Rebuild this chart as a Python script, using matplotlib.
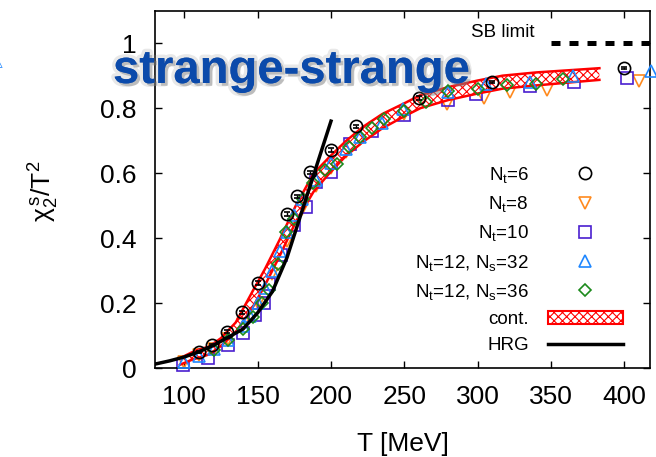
import matplotlib
matplotlib.use("Agg")
import matplotlib.pyplot as plt
import matplotlib.patheffects as pe
from matplotlib.patches import Patch
from matplotlib.lines import Line2D

plt.rcParams['font.family'] = ['Liberation Sans', 'DejaVu Sans']
plt.rcParams['mathtext.fontset'] = 'custom'
plt.rcParams['mathtext.rm'] = 'Liberation Sans'
plt.rcParams['mathtext.it'] = 'Liberation Sans'
plt.rcParams['mathtext.sf'] = 'Liberation Sans'
plt.rcParams['hatch.linewidth'] = 0.8

# ---------------- data ----------------
T6 = [110, 119, 129, 139, 150, 170, 177, 186, 200, 217, 260, 310, 400]
y6 = [0.050, 0.072, 0.112, 0.171, 0.262, 0.474, 0.528, 0.602, 0.672, 0.744, 0.831, 0.880, 0.923]
e6 = [0.003, 0.003, 0.004, 0.004, 0.005, 0.006, 0.006, 0.006, 0.006, 0.005, 0.005, 0.004, 0.004]

T8 = [100, 110, 120, 130, 140, 150, 160, 170, 180, 190, 200, 210, 220, 230, 250, 279, 304, 322, 347, 410]
y8 = [0.018, 0.040, 0.060, 0.090, 0.135, 0.200, 0.290, 0.390, 0.490, 0.560, 0.615, 0.665, 0.705, 0.740,
      0.783, 0.813, 0.831, 0.849, 0.857, 0.885]

T10 = [99, 116, 130, 140, 148, 154, 158, 166, 175, 183, 190, 200, 213, 228, 250, 280, 299, 336, 366, 402]
y10 = [0.008, 0.030, 0.070, 0.107, 0.162, 0.200, 0.260, 0.347, 0.439, 0.495, 0.572, 0.603, 0.690, 0.729,
       0.778, 0.826, 0.844, 0.867, 0.880, 0.893]

T32 = [100, 110, 120, 130, 140, 145, 150, 155, 160, 165, 170, 175, 180, 190, 200, 210, 220, 235, 249,
       280, 306, 336, 365, 418]
y32 = [0.018, 0.038, 0.058, 0.085, 0.130, 0.160, 0.200, 0.245, 0.300, 0.360, 0.420, 0.470, 0.520, 0.580,
       0.630, 0.675, 0.710, 0.755, 0.796, 0.850, 0.875, 0.880, 0.900, 0.914]

T36 = [120, 130, 140, 147, 153, 158, 164, 169, 175, 181, 188, 196, 204, 212, 220, 228, 236, 250, 265,
       280, 300, 320, 340, 358]
y36 = [0.055, 0.085, 0.120, 0.157, 0.200, 0.240, 0.320, 0.418, 0.460, 0.520, 0.570, 0.610, 0.629, 0.680,
       0.710, 0.740, 0.767, 0.790, 0.820, 0.854, 0.860, 0.870, 0.875, 0.890]

Tc = [97, 105, 110, 117, 125, 135, 147, 155, 165, 176, 188, 199, 210, 222, 235, 250, 261, 280, 300,
      317, 340, 360, 383]
cont_lo = [0.010, 0.025, 0.032, 0.042, 0.068, 0.110, 0.190, 0.255, 0.345, 0.450, 0.542, 0.600, 0.652,
           0.697, 0.738, 0.775, 0.800, 0.825, 0.845, 0.860, 0.870, 0.878, 0.887]
cont_hi = [0.030, 0.048, 0.057, 0.066, 0.092, 0.140, 0.240, 0.305, 0.395, 0.500, 0.598, 0.650, 0.698,
           0.743, 0.782, 0.815, 0.840, 0.865, 0.885, 0.900, 0.910, 0.916, 0.923]

T_hrg = [80, 90, 100, 110, 120, 130, 140, 150, 160, 170, 180, 190, 200]
y_hrg = [0.012, 0.022, 0.034, 0.050, 0.070, 0.095, 0.120, 0.170, 0.235, 0.340, 0.480, 0.620, 0.760]

T_sb = [350, 420]
y_sb = [1.0, 1.0]

xticks = [100, 150, 200, 250, 300, 350, 400]
yticks = [0, 0.2, 0.4, 0.6, 0.8, 1.0]
ytick_labels = ['0', '0.2', '0.4', '0.6', '0.8', '1']

labels = [r'N$_\mathregular{t}$=6', r'N$_\mathregular{t}$=8', r'N$_\mathregular{t}$=10',
          r'N$_\mathregular{t}$=12, N$_\mathregular{s}$=32', r'N$_\mathregular{t}$=12, N$_\mathregular{s}$=36',
          'cont.', 'HRG']

c_orange = '#ff8a1e'
c_purple = '#4a1fcf'
c_blue = '#1f87ff'
c_green = '#1c8a1c'

# ---------------- figure ----------------
fig = plt.figure(figsize=(6.56, 4.57), dpi=100)
ax = fig.add_axes([155/656, 1-368/457, 495/656, 357.3/457])

ax.fill_between(Tc, cont_lo, cont_hi, facecolor='white', edgecolor='red', hatch='xxxx', linewidth=0, zorder=3)
ax.plot(Tc, cont_lo, color='red', lw=1.8, zorder=3.1)
ax.plot(Tc, cont_hi, color='red', lw=1.8, zorder=3.1)

ms = 8.8
mew = 1.2
ax.plot(T8, y8, 'v', ms=ms, mfc='none', mec=c_orange, mew=mew, clip_on=False, zorder=2)
ax.plot(T10, y10, 's', ms=ms+0.5, mfc='none', mec=c_purple, mew=mew, clip_on=False, zorder=2)
ax.plot(T32, y32, '^', ms=ms, mfc='none', mec=c_blue, mew=mew, clip_on=False, zorder=4)
ax.plot(T36, y36, 'D', ms=ms-2.5, mfc='none', mec=c_green, mew=mew, clip_on=False, zorder=4)
ax.errorbar(T6, y6, yerr=e6, fmt='o', ms=ms, mfc='none', mec='black', mew=mew, ecolor='black',
            elinewidth=1, capsize=2, clip_on=False, zorder=5)

ax.plot(T_hrg, y_hrg, color='black', lw=2.5, zorder=6)
ax.plot(T_sb, y_sb, color='black', lw=3.6, linestyle=(0, (1.8, 1.8)), dash_capstyle='butt', zorder=6)
ax.text(0.766, 0.94, 'SB limit', transform=ax.transAxes, ha='right', va='center', fontsize=13.5)

ax.set_xlim(80, 417.5)
ax.set_ylim(0, 1.1)
ax.set_xticks(xticks)
ax.set_yticks(yticks)
ax.set_yticklabels(ytick_labels)
ax.tick_params(direction='in', length=5, width=1, top=True, right=True, labelsize=19)
ax.tick_params(axis='x', pad=12)
ax.tick_params(axis='y', pad=13)
for s in ax.spines.values():
    s.set_linewidth(1.2)

ax.set_xlabel('T [MeV]', fontsize=19, labelpad=17)
ax.set_ylabel(r'$\mathregular{\chi_2^{\,s}/T^2}$', fontsize=19)
ax.yaxis.set_label_coords(-0.19, 0.495)

handles = [
    Line2D([], [], ls='none', marker='o', ms=ms, mfc='none', mec='black', mew=mew),
    Line2D([], [], ls='none', marker='v', ms=ms, mfc='none', mec=c_orange, mew=mew),
    Line2D([], [], ls='none', marker='s', ms=ms, mfc='none', mec=c_purple, mew=mew),
    Line2D([], [], ls='none', marker='^', ms=ms, mfc='none', mec=c_blue, mew=mew),
    Line2D([], [], ls='none', marker='D', ms=ms-2.5, mfc='none', mec=c_green, mew=mew),
    Patch(facecolor='white', edgecolor='red', hatch='xxxx', lw=1.5),
    Line2D([], [], color='black', lw=2.5),
]
leg = ax.legend(handles, labels, loc='upper right', bbox_to_anchor=(0.945, 0.568), frameon=False,
                markerfirst=False, fontsize=13.5, handlelength=4.0, handletextpad=1.0,
                labelspacing=0.49, borderpad=0, borderaxespad=0)
for t in leg.get_texts():
    t.set_ha('right')

# title
fig.text(113/656, 1-83/457, 'strange-strange', fontsize=34, fontweight='bold', color='#0b4aab',
         ha='left', va='baseline',
         path_effects=[pe.SimplePatchShadow(offset=(2, -2), shadow_rgbFace=(0.45, 0.45, 0.45), alpha=0.4),
                       pe.Stroke(linewidth=5, foreground=(0.6, 0.6, 0.6, 0.22)),
                       pe.Normal()])

# stray cropped glyph at left edge
fig.text(-0.012, 1-62/457, '\u25b3', fontsize=10, color=c_blue, ha='left', va='center',
         family='DejaVu Sans')

fig.savefig('out.png', dpi=100)
